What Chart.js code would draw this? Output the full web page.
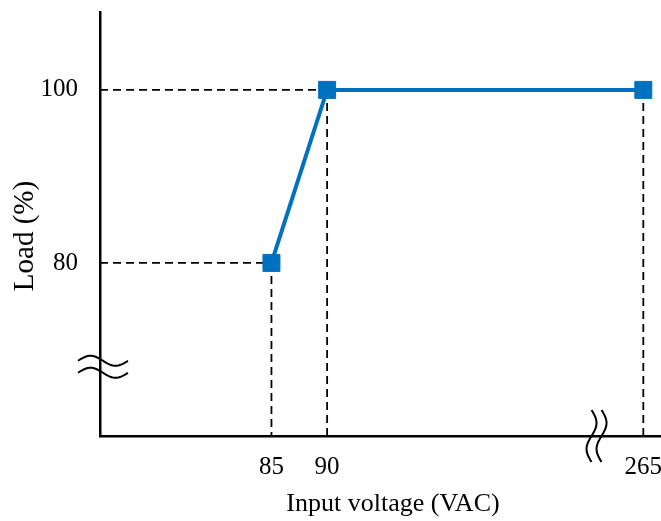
<!DOCTYPE html>
<html>
<head>
<meta charset="utf-8">
<script src="https://cdn.jsdelivr.net/npm/chart.js@4"></script>
<style>
  body { margin: 0; background: #fff; }
  #wrap { width: 661px; height: 521px; position: relative; }
</style>
</head>
<body>
<div id="wrap"><canvas id="myChart"></canvas></div>
<script>
/* data */
const voltage = ['85', '90', '265'];      // tick labels on x axis
const xPos = [85, 90, 118.4];             // position on the broken x axis (265 sits after the break)
const load = [80, 100, 100];
const yTicks = [80, 100];
const yBreak = 68.0;                      // where the y axis is broken
const xBreak = 114.2;                     // where the x axis is broken
const xTitle = 'Input voltage (VAC)';
const yTitle = 'Load (%)';

const blue = '#0070C0';
const font = 'Liberation Serif, Times New Roman, serif';

/* dashed guide lines from the points to the axes */
const guides = {
    id: 'guides',
    beforeDatasetsDraw(chart) {
        const ctx = chart.ctx;
        const x = chart.scales.x, y = chart.scales.y;
        ctx.save();
        ctx.strokeStyle = '#000';
        ctx.lineWidth = 1.8;
        ctx.setLineDash([8, 5]);
        for (let i = 0; i < xPos.length; i++) {
            const px = x.getPixelForValue(xPos[i]);
            const py = y.getPixelForValue(load[i]);
            ctx.beginPath();
            ctx.moveTo(px, py);
            ctx.lineTo(px, y.bottom);
            ctx.stroke();
            if (i < 2) {
                ctx.beginPath();
                ctx.moveTo(x.left, py);
                ctx.lineTo(px, py);
                ctx.stroke();
            }
        }
        ctx.restore();
    }
};

/* the two wavy break marks */
function wave(ctx, cx, cy, len, amp, vertical) {
    ctx.beginPath();
    for (let t = 0; t <= 40; t++) {
        const s = -len / 2 + len * t / 40;
        const d = amp * Math.sin((t / 40) * Math.PI * 2);
        if (vertical) {
            t ? ctx.lineTo(cx + d, cy + s) : ctx.moveTo(cx + d, cy + s);
        } else {
            t ? ctx.lineTo(cx + s, cy - d) : ctx.moveTo(cx + s, cy - d);
        }
    }
    ctx.stroke();
}

const breaks = {
    id: 'breaks',
    afterDraw(chart) {
        const ctx = chart.ctx;
        const x = chart.scales.x, y = chart.scales.y;
        ctx.save();
        ctx.strokeStyle = '#000';
        ctx.lineWidth = 2;
        const by = y.getPixelForValue(yBreak);
        wave(ctx, x.left + 3, by - 6, 50, 5, false);
        wave(ctx, x.left + 3, by + 6, 50, 5, false);
        const bx = x.getPixelForValue(xBreak);
        wave(ctx, bx - 5, y.bottom, 52, 5, true);
        wave(ctx, bx + 5, y.bottom, 52, 5, true);
        ctx.restore();
    }
};

/* axis titles, placed like the original (slightly off the axis centre) */
const titles = {
    id: 'titles',
    afterDraw(chart) {
        const ctx = chart.ctx;
        const area = chart.chartArea;
        ctx.save();
        ctx.fillStyle = '#000';
        ctx.textAlign = 'center';
        ctx.textBaseline = 'middle';
        ctx.font = '26px ' + font;
        ctx.fillText(xTitle, (area.left + area.right) / 2 + 13, area.bottom + 68);
        ctx.translate(25, (area.top + area.bottom) / 2 + 12);
        ctx.rotate(-Math.PI / 2);
        ctx.font = '29px ' + font;
        ctx.fillText(yTitle, 0, 0);
        ctx.restore();
    }
};

const ctx = document.getElementById('myChart').getContext('2d');
new Chart(ctx, {
    type: 'line',
    data: {
        datasets: [{
            data: xPos.map((v, i) => ({ x: v, y: load[i] })),
            borderColor: blue,
            backgroundColor: blue,
            borderWidth: 4,
            pointBorderWidth: 1,
            pointStyle: 'rect',
            pointRadius: 12,
            pointHoverRadius: 12,
            tension: 0,
            clip: false
        }]
    },
    options: {
        responsive: true,
        maintainAspectRatio: false,
        animation: false,
        events: [],
        layout: { autoPadding: false, padding: { top: 12, right: 1, left: 0, bottom: 0 } },
        plugins: { legend: { display: false }, tooltip: { enabled: false } },
        scales: {
            x: {
                type: 'linear',
                min: 69.6,
                max: 119.9,
                grid: { display: false },
                border: { display: true, color: '#000', width: 2.5 },
                afterBuildTicks: s => { s.ticks = xPos.map(v => ({ value: v })); },
                afterFit: s => { s.height = 85; s.paddingLeft = 0; s.paddingRight = 0; },
                ticks: {
                    color: '#000',
                    padding: 8,
                    maxRotation: 0,
                    autoSkip: false,
                    font: { family: font, size: 25 },
                    callback: (v) => voltage[xPos.indexOf(v)]
                }
            },
            y: {
                type: 'linear',
                min: 60,
                max: 109,
                grid: { display: false },
                border: { display: true, color: '#000', width: 2.5 },
                afterBuildTicks: s => { s.ticks = yTicks.map(v => ({ value: v })); },
                afterFit: s => { s.width = 100; s.paddingTop = 0; s.paddingBottom = 0; },
                ticks: {
                    color: '#000',
                    padding: 14,
                    font: { family: font, size: 25 }
                }
            }
        }
    },
    plugins: [guides, breaks, titles]
});
</script>
</body>
</html>
